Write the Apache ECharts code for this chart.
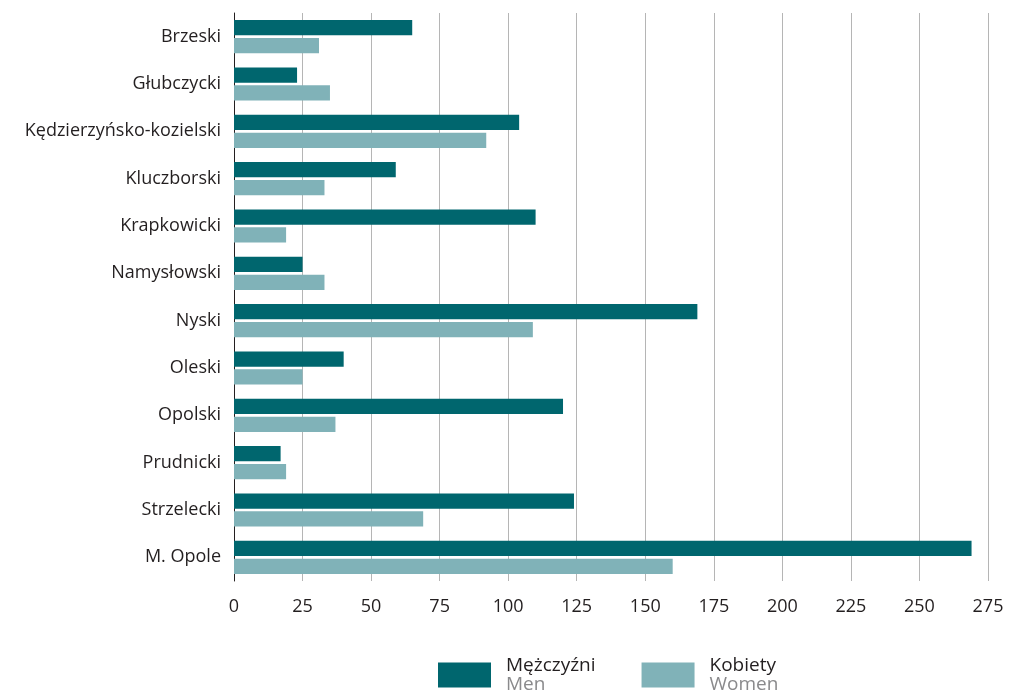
<!DOCTYPE html>
<html>
<head>
<meta charset="utf-8">
<script src="https://cdn.jsdelivr.net/npm/echarts@6/dist/echarts.min.js"></script>
<style>
  html, body { margin: 0; padding: 0; background: #fff; }
  #chart { width: 1013px; height: 691px; }
</style>
</head>
<body>
<div id="chart"></div>
<script>
// powiaty, top to bottom
var categories = ['Brzeski', 'Głubczycki', 'Kędzierzyńsko-kozielski', 'Kluczborski', 'Krapkowicki',
  'Namysłowski', 'Nyski', 'Oleski', 'Opolski', 'Prudnicki', 'Strzelecki', 'M. Opole']
var men = [65, 23, 104, 59, 110, 25, 169, 40, 120, 17, 124, 269]
var women = [31, 35, 92, 33, 19, 33, 109, 25, 37, 19, 69, 160]
var seriesNames = ['Mężczyźni', 'Kobiety']
var seriesNamesEn = ['Men', 'Women']

var font = '"Open Sans", "Noto Sans", sans-serif'
var chart = echarts.init(document.getElementById('chart'))

chart.setOption({
  animation: false,
  textStyle: { fontFamily: font },
  grid: {
    left: 234,
    right: 25,
    top: 13,
    bottom: 110
  },
  legend: {
    top: 651,
    left: 433,
    itemWidth: 53,
    itemHeight: 25,
    itemGap: 46,
    icon: 'rect',
    data: seriesNames,
    formatter: function(name) {
      var i = seriesNames.indexOf(name)
      return '{a|' + name + '}\n{b|' + seriesNamesEn[i] + '}'
    },
    textStyle: {
      padding: [0, 0, 0, 10],
      rich: {
        a: { fontSize: 19, color: '#231f20', fontFamily: font, lineHeight: 19 },
        b: { fontSize: 19, color: '#8a8a8c', fontFamily: font, lineHeight: 19 }
      }
    }
  },
  xAxis: {
    type: 'value',
    min: 0,
    max: 275,
    interval: 25,
    axisLine: { show: false },
    axisTick: { show: false },
    axisLabel: { fontSize: 18, color: '#231f20', margin: 17 },
    splitLine: { lineStyle: { color: '#b5b5b5', width: 1 } }
  },
  yAxis: {
    type: 'category',
    inverse: true,
    data: categories,
    axisLine: { lineStyle: { color: '#231f20', width: 1 } },
    axisTick: { show: false },
    axisLabel: { fontSize: 18, color: '#231f20', margin: 13 }
  },
  series: [
    {
      name: seriesNames[0],
      type: 'bar',
      data: men,
      barGap: '18%',
      barCategoryGap: '30%',
      itemStyle: { color: '#00666e' }
    },
    {
      name: seriesNames[1],
      type: 'bar',
      data: women,
      itemStyle: { color: '#80b2b8' }
    }
  ]
})
</script>
</body>
</html>
